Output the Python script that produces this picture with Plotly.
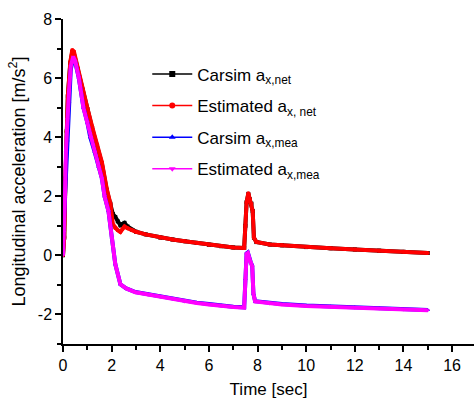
import plotly.graph_objects as go

# ---- data ----
t_net = [0, 0.05, 0.1, 0.15, 0.2, 0.3, 0.38, 0.45, 0.6, 0.8, 1.0, 1.2, 1.4, 1.6, 1.8,
         1.95, 2.05, 2.15, 2.25, 2.36, 2.45, 2.53, 2.65, 2.85, 3.0, 3.4, 4.0, 4.5, 5.0,
         5.5, 6.0, 6.5, 7.0, 7.45, 7.5, 7.55, 7.62, 7.68, 7.75, 7.8, 7.85, 7.95, 8.5,
         9, 10, 11, 12, 13, 14, 15]
carsim_net = [0, 0.6, 2.6, 4.2, 5.4, 6.5, 6.88, 6.83, 6.3, 5.6, 4.95, 4.3, 3.7, 3.1, 2.2,
              1.75, 1.4, 1.3, 1.15, 1.02, 1.06, 1.1, 0.98, 0.86, 0.8, 0.71, 0.6, 0.54, 0.48,
              0.42, 0.36, 0.31, 0.27, 0.25, 1.0, 1.8, 2.08, 1.9, 1.75, 1.5, 0.6, 0.45, 0.37,
              0.34, 0.28, 0.24, 0.2, 0.16, 0.12, 0.08]
est_net = [0, 0.6, 2.6, 4.2, 5.4, 6.55, 6.95, 6.9, 6.35, 5.65, 5.0, 4.35, 3.75, 3.15, 2.25,
           1.75, 1.05, 0.92, 0.85, 0.79, 0.9, 0.98, 0.92, 0.85, 0.8, 0.71, 0.6, 0.54, 0.48,
           0.42, 0.36, 0.31, 0.27, 0.25, 1.0, 1.8, 2.1, 1.9, 1.75, 1.5, 0.6, 0.45, 0.37,
           0.34, 0.28, 0.24, 0.2, 0.16, 0.12, 0.08]

t_mea = [0, 0.04, 0.08, 0.12, 0.18, 0.25, 0.32, 0.42, 0.5, 0.65, 0.84, 1.0, 1.12, 1.3,
         1.46, 1.6, 1.71, 1.87, 2.01, 2.15, 2.36, 2.6, 2.98, 3.5, 4.0, 4.5, 5.0, 5.5, 6.0,
         6.5, 7.0, 7.45, 7.5, 7.55, 7.6, 7.65, 7.72, 7.78, 7.83, 7.9, 8.5, 9, 10, 11, 12,
         13, 14, 15]
carsim_mea = [0.5, 1.3, 2.0, 2.9, 3.9, 5.2, 6.3, 6.68, 6.55, 6.0, 5.0, 4.5, 4.0, 3.5,
              3.0, 2.6, 2.0, 1.5, 0.6, -0.3, -0.98, -1.12, -1.24, -1.32, -1.39, -1.47,
              -1.55, -1.6, -1.65, -1.7, -1.74, -1.76, -0.8, 0.07, 0.1, -0.1, -0.23, -0.35,
              -1.3, -1.55, -1.62, -1.65, -1.7, -1.73, -1.76, -1.79, -1.82, -1.85]
est_mea = [0, 0.8, 2.0, 3.5, 4.6, 5.6, 6.4, 6.72, 6.58, 6.02, 5.0, 4.5, 4.0, 3.5,
           3.0, 2.6, 2.0, 1.5, 0.6, -0.3, -0.98, -1.12, -1.25, -1.33, -1.4, -1.48,
           -1.56, -1.61, -1.66, -1.71, -1.75, -1.77, -0.8, 0.05, 0.08, -0.12, -0.25, -0.37,
           -1.3, -1.56, -1.63, -1.66, -1.71, -1.74, -1.77, -1.8, -1.83, -1.86]

names = ["Carsim a<sub>x,net</sub>", "Estimated a<sub>x, net</sub>",
         "Carsim a<sub>x,mea</sub>", "Estimated a<sub>x,mea</sub>"]
colors = ["#000000", "#FF0000", "#0000FF", "#FF00FF"]
symbols = ["square", "circle", "triangle-up", "triangle-down"]

x_ticks = [0, 2, 4, 6, 8, 10, 12, 14, 16]
y_ticks = [-2, 0, 2, 4, 6, 8]

FONT = "Arial, Liberation Sans, sans-serif"

fig = go.Figure()
series = [(t_net, carsim_net), (t_net, est_net), (t_mea, carsim_mea), (t_mea, est_mea)]
for i, (tx, vy) in enumerate(series):
    fig.add_trace(go.Scatter(
        x=tx, y=vy, mode="lines+markers", name=names[i],
        line=dict(color=colors[i], width=4),
        marker=dict(color=colors[i], symbol=symbols[i], size=4),
        legendgroup=str(i), showlegend=False,
    ))
# legend-only entries (thin line with visible marker, as in the reference key)
for i in range(len(names)):
    fig.add_trace(go.Scatter(
        x=[None], y=[None], mode="lines+markers", name=names[i],
        line=dict(color=colors[i], width=1.5),
        marker=dict(color=colors[i], symbol=symbols[i], size=6),
        legendgroup=str(i), showlegend=True,
    ))

axis_common = dict(
    showline=True, linecolor="black", linewidth=1.5, mirror=False,
    ticks="outside", ticklen=6, tickwidth=1.5, tickcolor="black",
    showgrid=False, zeroline=False,
    tickfont=dict(family=FONT, size=16, color="black"),
)

fig.update_xaxes(
    range=[0, 16.9], tickmode="array", tickvals=x_ticks,
    ticktext=[str(v) for v in x_ticks],
    minor=dict(dtick=1, tick0=0, ticks="outside", ticklen=4, tickcolor="black", tickwidth=1.5),
    title=dict(text="Time [sec]", font=dict(family=FONT, size=17, color="black"), standoff=10),
    **axis_common,
)
fig.update_yaxes(
    range=[-3, 8], tickmode="array", tickvals=y_ticks,
    ticktext=[str(v) for v in y_ticks],
    minor=dict(dtick=1, tick0=0, ticks="outside", ticklen=4, tickcolor="black", tickwidth=1.5),
    title=dict(text="Longitudinal acceleration [m/s<sup>2</sup>]",
               font=dict(family=FONT, size=18, color="black"), standoff=8),
    **axis_common,
)

fig.update_layout(
    width=474, height=403,
    margin=dict(l=63, r=0, t=19, b=59),
    paper_bgcolor="white", plot_bgcolor="white",
    font=dict(family=FONT, color="black"),
    legend=dict(x=0.205, y=0.885, xanchor="left", yanchor="top",
                font=dict(family=FONT, size=17, color="black"),
                bgcolor="rgba(0,0,0,0)", tracegroupgap=6.5, itemwidth=40),
    showlegend=True,
)

fig.write_html("out.html")
